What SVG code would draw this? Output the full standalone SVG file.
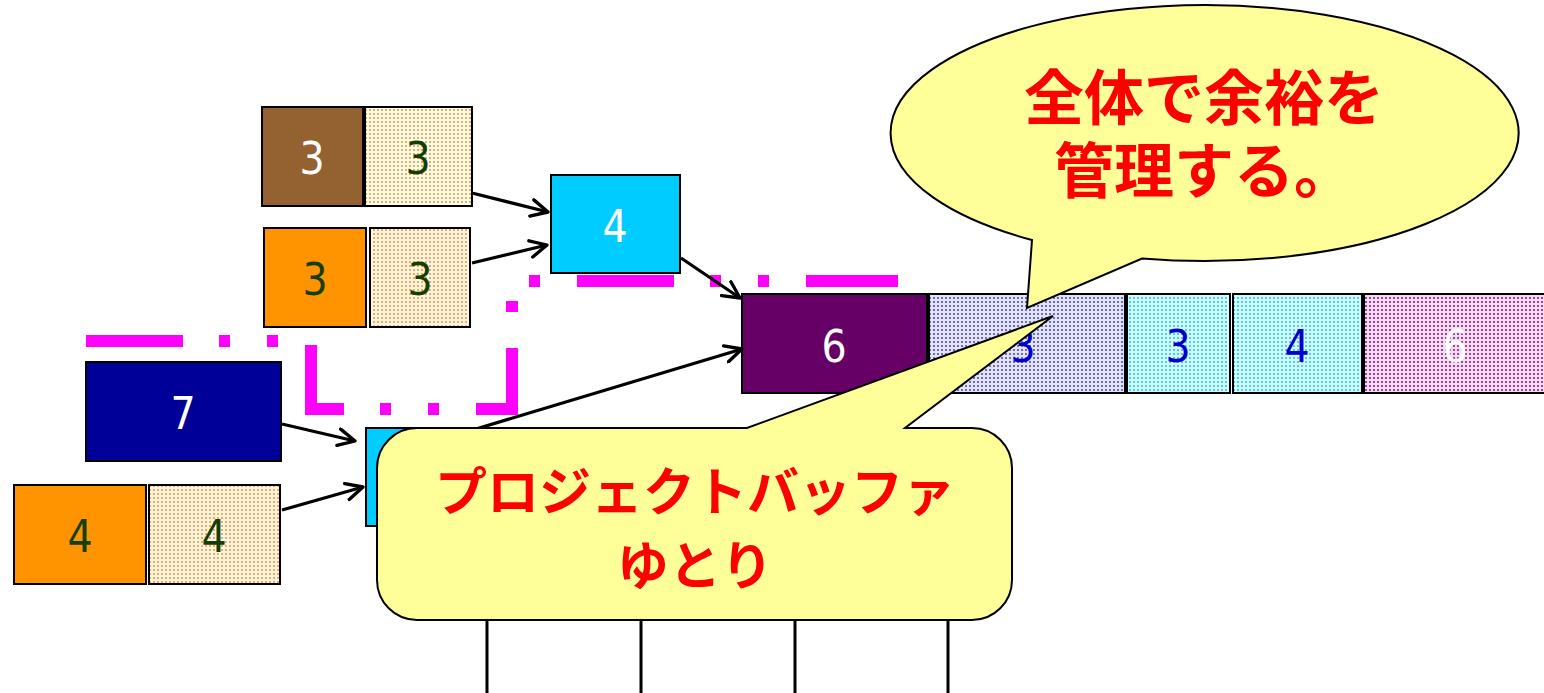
<svg xmlns="http://www.w3.org/2000/svg" width="1544" height="693" viewBox="0 0 1544 693">
<defs>
<pattern id="pTan" width="4" height="4" patternUnits="userSpaceOnUse"><rect width="4" height="4" fill="#fffbe8"/><rect x="1" y="1" width="2" height="2" fill="#e2b060"/></pattern>
<pattern id="pOrg" width="4" height="4" patternUnits="userSpaceOnUse"><rect width="4" height="4" fill="#fff6ea"/><rect x="1" y="1" width="2" height="2" fill="#ffa84a"/></pattern>
<pattern id="pBlue" width="4" height="4" patternUnits="userSpaceOnUse"><rect width="4" height="4" fill="#e4e4f6"/><rect x="1" y="1" width="2" height="2" fill="#6a6acc"/></pattern>
<pattern id="pCyan" width="4" height="4" patternUnits="userSpaceOnUse"><rect width="4" height="4" fill="#d8f8ff"/><rect x="1" y="1" width="2" height="2" fill="#3cd2ff"/></pattern>
<pattern id="pPurp" width="4" height="4" patternUnits="userSpaceOnUse"><rect width="4" height="4" fill="#f2dcf0"/><rect x="1" y="1" width="2" height="2" fill="#a0409a"/></pattern>
<marker id="arr" viewBox="0 0 12 12" refX="11" refY="6" markerWidth="20" markerHeight="20" markerUnits="userSpaceOnUse" orient="auto"><path d="M1,1 L11,6 L1,11" fill="none" stroke="#000" stroke-width="2" stroke-linecap="round" stroke-linejoin="round"/></marker>
</defs>
<style>
.box{stroke:#000;stroke-width:2}
.num{font-family:"Liberation Sans Narrow","DejaVu Sans Condensed","Liberation Sans",sans-serif;font-size:44px;text-anchor:middle}
.w{fill:#fff}.g{fill:#133f00}.b{fill:#0000cc}
.conn{stroke:#000;stroke-width:3.2;fill:none;marker-end:url(#arr)}
.call{fill:#ffff99;stroke:#000;stroke-width:2}
.jp{font-family:"Noto Sans CJK JP",sans-serif;font-weight:bold;fill:#ff0000;text-anchor:middle}
</style>
<rect width="1544" height="693" fill="#fff"/>
<g id="buffer-outline">
<path d="M86,341 H311 V409 H512 V281 H898" fill="none" stroke="#ff00ff" stroke-width="12" stroke-dasharray="97 36 11 37 11 37"/>
</g>
<g id="n-brown3"><rect class="box" x="262" y="107" width="101" height="99" fill="#946130"/><text class="num w" x="312" y="174">3</text></g>
<g id="n-tan3"><rect class="box" x="365" y="107" width="107" height="99" fill="url(#pTan)"/><text class="num g" x="418" y="174">3</text></g>
<g id="n-orange3"><rect class="box" x="264" y="228" width="102" height="99" fill="#ff9300"/><text class="num g" x="315" y="295">3</text></g>
<g id="n-orange3b"><rect class="box" x="370" y="228" width="100" height="99" fill="url(#pOrg)"/><text class="num g" x="420" y="295">3</text></g>
<g id="n-cyan4"><rect class="box" x="551" y="175" width="129" height="98" fill="#00ccff"/><text class="num w" x="615" y="242">4</text></g>
<g id="n-navy7"><rect class="box" x="86" y="362" width="195" height="99" fill="#000099"/><text class="num w" x="183" y="429">7</text></g>
<g id="n-orange4"><rect class="box" x="14" y="485" width="132" height="99" fill="#ff9300"/><text class="num g" x="80" y="552">4</text></g>
<g id="n-orange4b"><rect class="box" x="149" y="485" width="131" height="99" fill="url(#pOrg)"/><text class="num g" x="214" y="552">4</text></g>
<g id="n-cyanhidden"><rect class="box" x="366" y="428" width="104" height="98" fill="#00ccff"/></g>
<g id="n-purple6"><rect class="box" x="742" y="294" width="185" height="99" fill="#660066"/><text class="num w" x="834" y="362">6</text></g>
<g id="n-buf3"><rect class="box" x="929" y="294" width="196" height="99" fill="url(#pBlue)"/><text class="num b" x="1023" y="362">3</text></g>
<g id="n-bufc3"><rect class="box" x="1127" y="294" width="103" height="99" fill="url(#pCyan)"/><text class="num b" x="1178" y="362">3</text></g>
<g id="n-bufc4"><rect class="box" x="1233" y="294" width="129" height="99" fill="url(#pCyan)"/><text class="num b" x="1297" y="362">4</text></g>
<g id="n-bufp6"><rect class="box" x="1364" y="294" width="190" height="99" fill="url(#pPurp)"/><text class="num w" x="1455" y="362">6</text></g>
<g id="connectors">
<line class="conn" x1="472" y1="193" x2="548" y2="212"/>
<line class="conn" x1="472" y1="263" x2="547" y2="245"/>
<line class="conn" x1="681" y1="258" x2="740" y2="298"/>
<line class="conn" x1="466" y1="432" x2="742" y2="349"/>
<line class="conn" x1="282" y1="424" x2="355" y2="441"/>
<line class="conn" x1="282" y1="510" x2="363" y2="487"/>
</g>
<g id="ticks" stroke="#000" stroke-width="3">
<line x1="487" y1="620" x2="487" y2="693"/>
<line x1="641" y1="620" x2="641" y2="693"/>
<line x1="795" y1="620" x2="795" y2="693"/>
<line x1="948" y1="620" x2="948" y2="693"/>
</g>
<g id="callout-total">
<path class="call" d="M1032,240 A314,128 0 1 1 1142,258.5 L1027,308 Z"/>
<text class="jp" x="1204" y="120" font-size="60">全体で余裕を</text>
<text class="jp" x="1204" y="193" font-size="60">管理する。</text>
</g>
<g id="callout-buffer">
<path class="call" d="M417,428 H747 L1053,316 L905,428 H972 A40,40 0 0 1 1012,468 V580 A40,40 0 0 1 972,620 H417 A40,40 0 0 1 377,580 V468 A40,40 0 0 1 417,428 Z"/>
<text class="jp" x="695" y="511" font-size="52">プロジェクトバッファ</text>
<text class="jp" x="695" y="585" font-size="52">ゆとり</text>
</g>
</svg>
